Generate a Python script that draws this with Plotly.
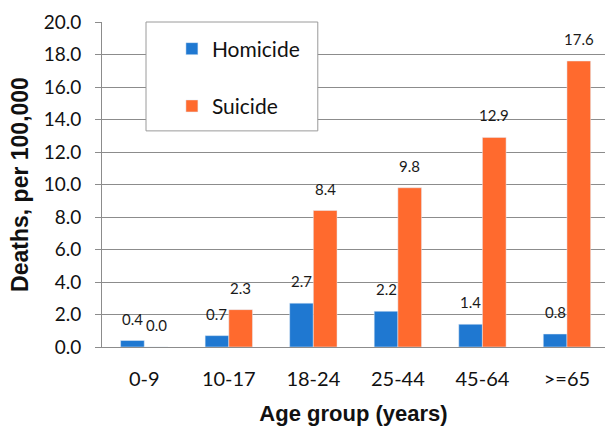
import plotly.graph_objects as go

# Death rates by age group (deaths per 100,000)
age_groups = ["0-9", "10-17", "18-24", "25-44", "45-64", ">=65"]
homicide = [0.4, 0.7, 2.7, 2.2, 1.4, 0.8]
suicide = [0.0, 2.3, 8.4, 9.8, 12.9, 17.6]
y_ticks = [0, 2, 4, 6, 8, 10, 12, 14, 16, 18, 20]

BLUE = "#1f78d1"
ORANGE = "#ff6a2e"
GRID = "#8c8c8c"
LABEL_FONT = dict(family="Lato", size=15, color="#1a1a1a")

BARGAP = 0.44
half_bar = (1 - BARGAP) / 4  # centre offset of each bar within its group

fig = go.Figure()
fig.add_trace(go.Bar(name="Homicide", x=age_groups, y=homicide,
                     marker_color=BLUE, legendgroup="h"))
fig.add_trace(go.Bar(name="Suicide", x=age_groups, y=suicide,
                     marker_color=ORANGE, legendgroup="s"))

# value labels floating a little above each bar
for i in range(len(age_groups)):
    for val, dx in ((homicide[i], -half_bar), (suicide[i], half_bar)):
        fig.add_annotation(
            x=i + dx, y=val, text=f"{val:.1f}", showarrow=False,
            xanchor="center", yanchor="bottom", yshift=11,
            font=LABEL_FONT,
        )

# white legend panel with a thin grey frame
fig.add_shape(
    type="rect", xref="paper", yref="paper",
    x0=0.0875, x1=0.429, y0=0.665, y1=1.0,
    fillcolor="white", line=dict(color="#9a9a9a", width=1), layer="above",
)

fig.update_layout(
    width=605, height=426,
    margin=dict(l=102, r=0, t=22, b=79),
    paper_bgcolor="white", plot_bgcolor="white",
    barmode="group", bargap=BARGAP, bargroupgap=0,
    showlegend=True,
    legend=dict(
        x=0.139, xanchor="left", y=0.98, yanchor="top",
        bgcolor="rgba(0,0,0,0)", borderwidth=0,
        font=dict(family="Lato", size=21, color="#111"),
        tracegroupgap=27,
    ),
    xaxis=dict(
        range=[-0.5, 5.45],
        showline=True, linecolor=GRID, linewidth=1,
        ticks="", ticklabelstandoff=14,
        tickfont=dict(family="Lato", size=20, color="#111"),
        title=dict(text="Age group (years)", standoff=18,
                   font=dict(family="Liberation Sans", size=22, color="#111",
                             weight="bold")),
        showgrid=False,
    ),
    yaxis=dict(
        range=[0, 20], tickvals=y_ticks, tickformat=".1f",
        showline=True, linecolor=GRID, linewidth=1,
        ticks="outside", ticklen=6, tickcolor=GRID, ticklabelstandoff=10,
        tickfont=dict(family="Lato", size=19, color="#111"),
        showgrid=True, gridcolor=GRID, gridwidth=1,
        zeroline=False,
        title=dict(text="Deaths, per 100,000", standoff=8,
                   font=dict(family="Liberation Sans", size=23, color="#111",
                             weight="bold")),
    ),
)

fig.write_html("out.html")
